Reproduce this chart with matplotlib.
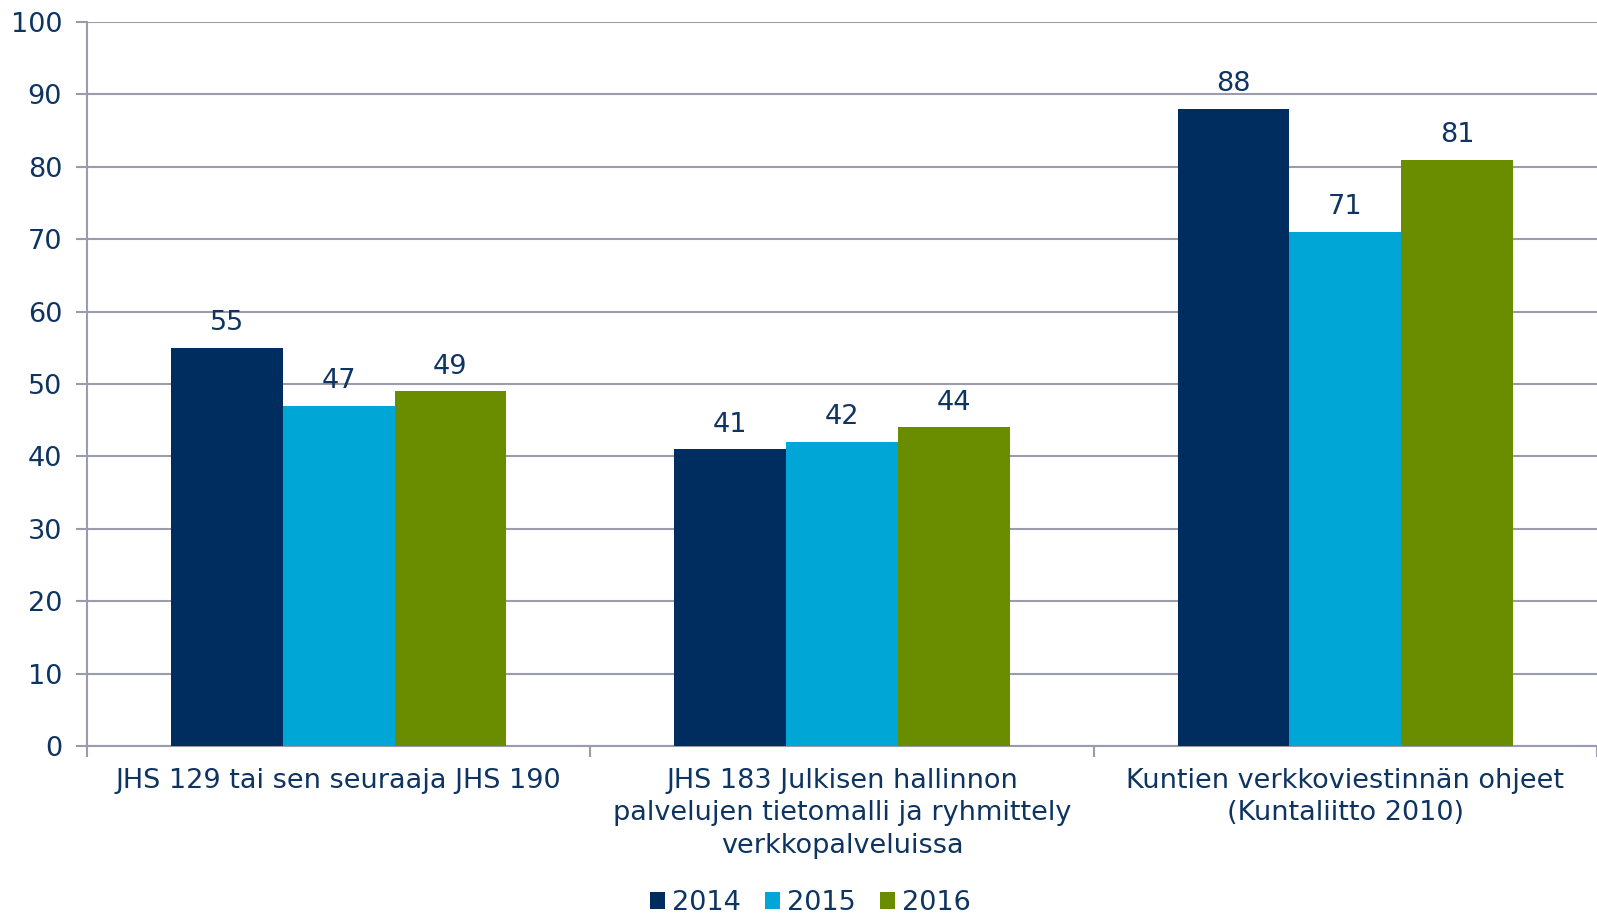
import numpy as np
import matplotlib.pyplot as plt

categories = ["JHS 129 tai sen seuraaja JHS 190",
              "JHS 183 Julkisen hallinnon\npalvelujen tietomalli ja ryhmittely\nverkkopalveluissa",
              "Kuntien verkkoviestinnän ohjeet\n(Kuntaliitto 2010)"]
years = ["2014", "2015", "2016"]
v2014 = [55, 41, 88]
v2015 = [47, 42, 71]
v2016 = [49, 44, 81]

colors = ["#002D5F", "#00A6D6", "#6A8D00"]
txt = "#0E3461"
grid = "#9B9CAB"
fs = 19.5

plt.rcParams['font.family'] = ['DejaVu Sans']
fig = plt.figure(figsize=(15.97, 9.16), dpi=100)
ax = fig.add_axes([0.0545, 0.1856, 0.9455, 0.7904])

x = np.arange(len(categories))
w = 0.222
for i, (vals, yr) in enumerate(zip([v2014, v2015, v2016], years)):
    pos = x + (i - 1) * w
    ax.bar(pos, vals, w, color=colors[i], label=yr, zorder=3)
    for p, v in zip(pos, vals):
        ax.text(p, v + 1.6, str(v), ha='center', va='bottom', fontsize=fs, color=txt)

ax.set_xlim(-0.5, 2.5)
ax.set_ylim(0, 100)
ax.set_yticks(range(0, 101, 10))
ax.yaxis.grid(True, color=grid, linewidth=1.5, zorder=0)
ax.set_axisbelow(True)
for s in ['top', 'right']:
    ax.spines[s].set_visible(False)
for s in ['left', 'bottom']:
    ax.spines[s].set_color(grid)
    ax.spines[s].set_linewidth(1.5)

ax.set_xticks([-0.5, 0.5, 1.5, 2.5])
ax.set_xticklabels([])
ax.tick_params(axis='x', length=8, color=grid, width=1.5)
ax.tick_params(axis='y', length=8, color=grid, width=1.5, labelsize=fs, labelcolor=txt, pad=10)

for xi, c in zip(x, categories):
    ax.text(xi, -3.0, c, ha='center', va='top', fontsize=fs, color=txt,
            linespacing=1.32, transform=ax.transData)

leg = ax.legend(loc='center', bbox_to_anchor=(0.479, -0.217), ncol=3, frameon=False,
                fontsize=fs, handlelength=0.55, handleheight=0.55, handletextpad=0.25,
                columnspacing=0.9)
for t in leg.get_texts():
    t.set_color(txt)

fig.savefig("out.png", dpi=100)
